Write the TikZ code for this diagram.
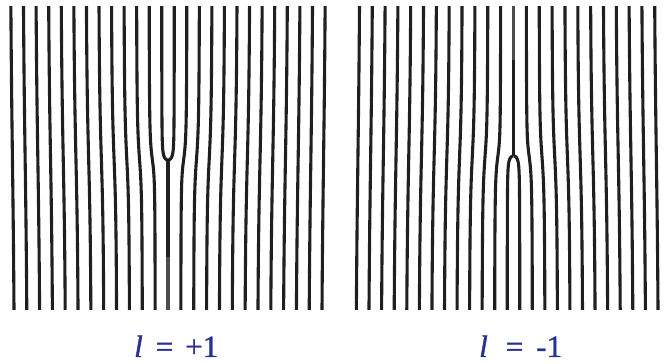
\documentclass[tikz,border=0pt]{standalone}
\usepackage{fontspec}
\setmainfont{Liberation Serif}
\newfontfamily\lblfont[FakeBold=1.2]{Liberation Serif}
\definecolor{labelblue}{RGB}{40,48,145}
\begin{document}
\begin{tikzpicture}[x=1pt,y=1pt,
  fringe/.style={line width=3.1pt, draw=black!88},
  fringelight/.style={line width=3.1pt, draw=black!70},
  lbl/.style={text=labelblue, font=\lblfont\fontsize{31}{36}\selectfont, inner sep=0pt, anchor=base west}]
\useasboundingbox (0,0) rectangle (665,364);
\def\p{12.7}
% ---------- left panel: l = +1 ----------
\begin{scope}
  \clip (6,54) rectangle (330,357);
  \begin{scope}[shift={(168,206)}]
    \foreach \s in {1,-1}{
      \begin{scope}[xscale=\s]
        \foreach \m in {1,...,12}{
          \pgfmathsetmacro{\a}{atan(\p*\m/200)}
          \pgfmathsetmacro{\b}{180-atan(\p*(\m+0.5)/200)}
          \draw[fringe] plot[domain=\a:\b, samples=90, variable=\t]
            ({\p*(\m+\t/360)}, {-\p*(\m+\t/360)*cot(\t)});
        }
        \pgfmathsetmacro{\b}{180-atan(\p*0.5/200)}
        \draw[fringe] plot[domain=0.5:\b, samples=90, variable=\t]
          ({\p*\t/360}, {-\p*\t/360*cot(\t)});
      \end{scope}
    }
    \coordinate (ls) at (0,-2.02);
    \coordinate (lm) at (0,-99);
    \coordinate (lb) at (0,-170);
    \draw[fringelight] (lm) -- (lb);
    \draw[fringe] (ls) -- (lm);
  \end{scope}
\end{scope}
% ---------- right panel: l = -1 ----------
\begin{scope}
  \clip (352,54) rectangle (665,357);
  \begin{scope}[shift={(513.5,206)}, yscale=-1]
    \foreach \s in {1,-1}{
      \begin{scope}[xscale=\s]
        \foreach \m in {1,...,12}{
          \pgfmathsetmacro{\a}{atan(\p*\m/200)}
          \pgfmathsetmacro{\b}{180-atan(\p*(\m+0.5)/200)}
          \draw[fringe] plot[domain=\a:\b, samples=90, variable=\t]
            ({\p*(\m+\t/360)}, {-\p*(\m+\t/360)*cot(\t)});
        }
        \pgfmathsetmacro{\b}{180-atan(\p*0.5/200)}
        \draw[fringe] plot[domain=0.5:\b, samples=90, variable=\t]
          ({\p*\t/360}, {-\p*\t/360*cot(\t)});
      \end{scope}
    }
    \coordinate (rs) at (0,-2.02);
    \coordinate (rm) at (0,-98);
    \coordinate (rb) at (0,-170);
    \draw[fringelight] (rm) -- (rb);
    \draw[fringe] (rs) -- (rm);
  \end{scope}
\end{scope}
% ---------- labels ----------
\node[lbl] (labelplus) at (134,7) {\textit{l}\hspace{13pt}=\hspace{12pt}+1};
\node[lbl] (labelminus) at (479,7) {\textit{l}\hspace{18pt}=\hspace{13pt}-1};
\end{tikzpicture}
\end{document}
